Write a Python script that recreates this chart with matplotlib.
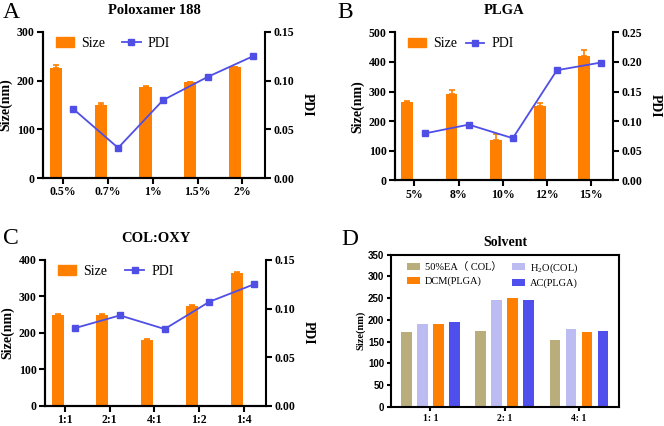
import matplotlib
matplotlib.use('Agg')
import matplotlib.pyplot as plt
from matplotlib.patches import Patch
from matplotlib.lines import Line2D
import numpy as np

plt.rcParams['font.family'] = ['Liberation Serif', 'Noto Sans CJK SC']
plt.rcParams['mathtext.fontset'] = 'stix'

ORANGE = '#FF8000'
BLUE = '#4F4FE6'

# panel A - Poloxamer 188
a_cats = ['0.5%', '0.7%', '1%', '1.5%', '2%']
a_size = [225, 151, 188, 197, 228]
a_err = [7, 4, 2, 1, 1]
a_pdi = [0.071, 0.031, 0.080, 0.104, 0.125]

# panel B - PLGA
b_cats = ['5%', '8%', '10%', '12%', '15%']
b_size = [265, 290, 135, 250, 420]
b_err = [2, 15, 20, 12, 20]
b_pdi = [0.079, 0.094, 0.071, 0.186, 0.199]

# panel C - COL:OXY
c_cats = ['1:1', '2:1', '4:1', '1:2', '1:4']
c_size = [250, 249, 180, 275, 365]
c_err = [1, 3, 2, 2, 1]
c_pdi = [0.080, 0.093, 0.079, 0.107, 0.125]

# panel D - Solvent
d_cats = ['1: 1', '2: 1', '4: 1']
d_names = ['50%EA（ COL）', r'H$_\mathregular{2}$O(COL)', 'DCM(PLGA)', 'AC(PLGA)']
d_vals = [[172, 174, 153],
          [191, 246, 179],
          [191, 251, 172],
          [196, 246, 174]]
d_colors = ['#B9AE7B', '#BCBCF3', ORANGE, '#4F4FEE']

fig = plt.figure(figsize=(6.64, 4.26), dpi=100)


def size_pdi(rect, cats, size, err, pdi, ymax, ystep, pmax, title, letter, lx, ly, colsp):
    ax = fig.add_axes(rect)
    x = np.arange(len(cats))
    ax.bar(x - 0.16, size, width=0.27, color=ORANGE, zorder=2)
    ax.errorbar(x - 0.16, size, yerr=[np.zeros(len(err)), err], fmt='none',
                ecolor=ORANGE, elinewidth=1.2, capsize=2, capthick=1.2, zorder=2)
    ax.set_xlim(-0.44, 4.5)
    ax.set_ylim(0, ymax)
    ax.set_yticks(np.arange(0, ymax + 1, ystep))
    ax.set_xticks(x)
    ax.set_xticklabels(cats)
    ax.set_ylabel('Size(nm)', fontsize=10, fontweight='bold', labelpad=3)
    ax.set_title(title, fontsize=10.5, fontweight='bold', pad=13)
    for s in ['top', 'right']:
        ax.spines[s].set_visible(False)
    ax2 = ax.twinx()
    ax2.plot(x + 0.23, pdi, color=BLUE, marker='s', ms=5, lw=1.3)
    ax2.set_ylim(0, pmax)
    ax2.set_yticks(np.arange(0, pmax + 1e-9, 0.05))
    ax2.yaxis.set_major_formatter(matplotlib.ticker.FormatStrFormatter('%.2f'))
    ax2.set_ylabel('PDI', fontsize=10, fontweight='bold', rotation=270, labelpad=14)
    ax2.spines['top'].set_visible(False)
    for a in [ax, ax2]:
        for s in a.spines.values():
            s.set_linewidth(1.5)
        a.tick_params(width=1.5, length=4, labelsize=8.5, pad=2)
        for t in a.get_xticklabels() + a.get_yticklabels():
            t.set_fontweight('bold')
    handles = [Patch(color=ORANGE), Line2D([], [], color=BLUE, marker='s', ms=5, lw=1.3)]
    ax.legend(handles, ['Size', 'PDI'], loc='upper left', ncol=2, frameon=False,
              fontsize=10, bbox_to_anchor=(0.0, 1.05), handlelength=1.35,
              columnspacing=colsp, handletextpad=0.5)
    fig.text(lx, ly, letter, fontsize=17, ha='left', va='center')
    return ax


size_pdi([0.065, 0.582, 0.334, 0.343], a_cats, a_size, a_err, a_pdi,
         300, 100, 0.15, 'Poloxamer 188', 'A', 0.004, 0.97, 1.2)
size_pdi([0.595, 0.577, 0.328, 0.347], b_cats, b_size, b_err, b_pdi,
         500, 100, 0.25, 'PLGA', 'B', 0.508, 0.97, 0.6)
size_pdi([0.068, 0.047, 0.333, 0.343], c_cats, c_size, c_err, c_pdi,
         400, 100, 0.15, 'COL:OXY', 'C', 0.004, 0.44, 1.3)

# panel D
ax = fig.add_axes([0.589, 0.045, 0.343, 0.357])
x = np.arange(len(d_cats))
offs = [-0.324, -0.108, 0.108, 0.324]
bars = []
for i in range(4):
    bars.append(ax.bar(x + offs[i], d_vals[i], width=0.14, color=d_colors[i]))
ax.set_xlim(-0.53, 2.54)
ax.set_ylim(0, 350)
ax.set_yticks(np.arange(0, 351, 50))
ax.set_xticks(x)
ax.set_xticklabels(d_cats, fontsize=7, fontweight='bold')
for t in ax.get_yticklabels():
    t.set_fontfamily('Liberation Sans')
    t.set_fontweight('bold')
    t.set_fontsize(7)
for s in ax.spines.values():
    s.set_linewidth(1.5)
ax.tick_params(width=1.5, length=3, pad=2)
ax.set_ylabel('Size(nm)', fontsize=7.5, fontweight='bold', labelpad=2)
ax.set_title('Solvent', fontsize=10, fontweight='bold', pad=6)
# legend fills by column, so order it to read row by row
order = [0, 2, 1, 3]
ax.legend([bars[i] for i in order], [d_names[i] for i in order], loc='upper left',
          ncol=2, frameon=False, fontsize=7.5, bbox_to_anchor=(0.03, 1.02),
          handlelength=1.2, columnspacing=1.0, handletextpad=0.5, labelspacing=0.4)
fig.text(0.514, 0.437, 'D', fontsize=17, ha='left', va='center')

fig.savefig('out.png', dpi=100)
